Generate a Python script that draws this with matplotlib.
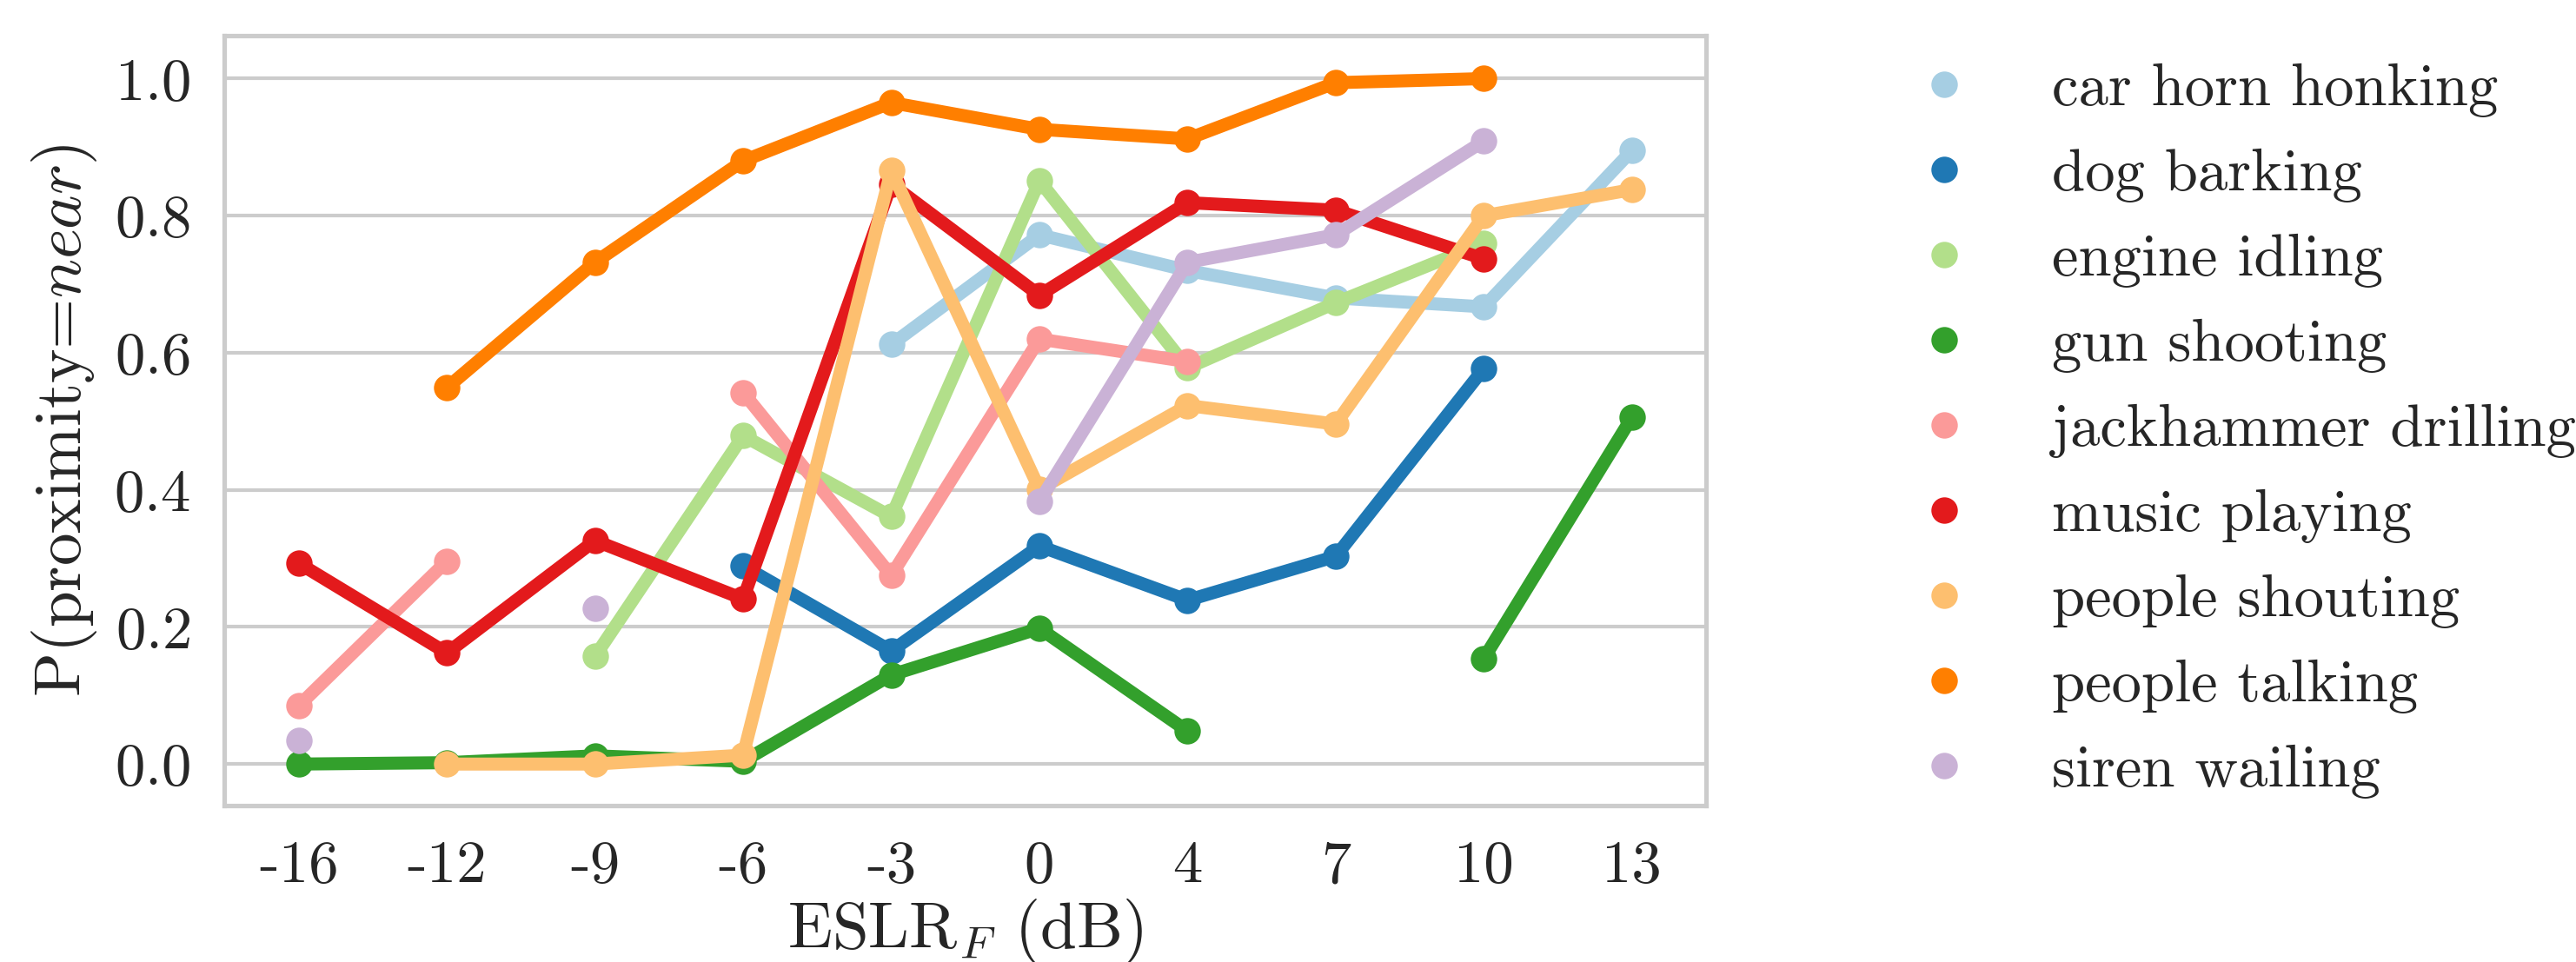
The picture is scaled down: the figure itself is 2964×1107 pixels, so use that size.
import numpy as np
import seaborn as sns
import matplotlib
matplotlib.use("Agg")
import matplotlib.pyplot as plt
from matplotlib.lines import Line2D

nan = np.nan

# ESLR_F categories (dB)
eslr = ['-16', '-12', '-9', '-6', '-3', '0', '4', '7', '10', '13']

car_horn = [nan, nan, nan, nan, 0.612, 0.772, 0.720, 0.680, 0.667, 0.895]
dog_barking = [nan, nan, nan, 0.289, 0.165, 0.318, 0.239, 0.303, 0.577, nan]
engine_idling = [nan, nan, 0.157, 0.479, 0.361, 0.851, 0.578, 0.673, 0.760, nan]
gun_shooting = [0.0, 0.002, 0.012, 0.004, 0.130, 0.198, 0.048, nan, 0.154, 0.506]
jackhammer = [0.085, 0.296, nan, 0.542, 0.275, 0.620, 0.587, nan, nan, nan]
music_playing = [0.293, 0.162, 0.326, 0.241, 0.846, 0.684, 0.819, 0.808, 0.737, nan]
people_shouting = [nan, 0.0, 0.0, 0.013, 0.866, 0.401, 0.523, 0.496, 0.800, 0.838]
people_talking = [nan, 0.549, 0.732, 0.880, 0.965, 0.926, 0.912, 0.994, 1.0, nan]
siren_wailing = [0.035, nan, 0.227, nan, nan, 0.383, 0.732, 0.772, 0.909, nan]

labels = ['car horn honking', 'dog barking', 'engine idling', 'gun shooting',
          'jackhammer drilling', 'music playing', 'people shouting',
          'people talking', 'siren wailing']
series = [car_horn, dog_barking, engine_idling, gun_shooting, jackhammer,
          music_playing, people_shouting, people_talking, siren_wailing]

sns.set_theme(style='whitegrid', context='notebook', font_scale=1.5)
plt.rcParams['font.family'] = 'serif'
plt.rcParams['font.serif'] = ['cmr10']
plt.rcParams['mathtext.fontset'] = 'cm'
plt.rcParams['axes.unicode_minus'] = False
plt.rcParams['axes.formatter.use_mathtext'] = True

couleurs = sns.color_palette('Paired', len(labels))

fig = plt.figure(figsize=(9.88, 3.69), dpi=300)
ax = fig.add_axes([0.0872, 0.1623, 0.5751, 0.8009])

lw = 3.6
ms = 7.3
for vals, lab, c in zip(series, labels, couleurs):
    ax.plot(eslr, vals, color=c, lw=lw, marker='o', markersize=ms,
            markeredgewidth=0, label=lab)

ax.set_xlim(-0.5, len(eslr) - 0.5)
ax.set_ylim(-0.061, 1.063)
ax.set_yticks([0.0, 0.2, 0.4, 0.6, 0.8, 1.0])
ax.grid(axis='x', visible=False)
ax.set_xlabel(r'ESLR$_F$ (dB)', fontsize=18, labelpad=1)
ax.set_ylabel(r'P(proximity=$near$)', fontsize=18)
ax.tick_params(labelsize=16.5)

handles = [Line2D([], [], ls='', marker='o', color=c, markersize=ms,
                  markeredgewidth=0) for c in couleurs]
fig.legend(handles, labels, loc='upper left', bbox_to_anchor=(0.7108, 0.990),
           frameon=False, fontsize=16.5, labelspacing=0.52)

fig.savefig('out.png', dpi=300)
